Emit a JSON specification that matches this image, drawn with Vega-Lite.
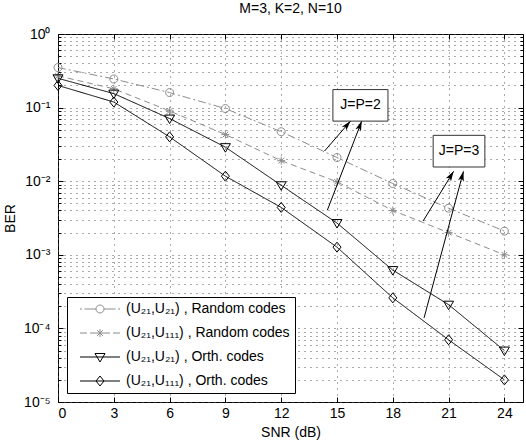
{
  "$schema": "https://vega.github.io/schema/vega-lite/v6.json",
  "width": 465,
  "height": 368,
  "autosize": {"type": "none"},
  "padding": {"left": 58, "top": 34, "right": 3, "bottom": 39},
  "title": {"text": "M=3, K=2, N=10", "fontSize": 14, "fontWeight": "normal", "font": "Liberation Sans", "color": "black", "offset": 11},
  "config": {
    "view": {"stroke": "black", "strokeWidth": 1},
    "font": "Liberation Sans",
    "axis": {"labelFont": "Liberation Sans", "titleFont": "Liberation Sans", "labelColor": "black", "titleColor": "black", "labelFontSize": 14, "titleFontSize": 14, "titleFontWeight": "normal", "tickColor": "black", "domain": false}
  },
  "datasets": {
    "ber": [
      {"snr": 0, "ber": 0.35, "series": "A"}, {"snr": 3, "ber": 0.245, "series": "A"}, {"snr": 6, "ber": 0.16, "series": "A"}, {"snr": 9, "ber": 0.097, "series": "A"}, {"snr": 12, "ber": 0.047, "series": "A"}, {"snr": 15, "ber": 0.021, "series": "A"}, {"snr": 18, "ber": 0.0093, "series": "A"}, {"snr": 21, "ber": 0.0043, "series": "A"}, {"snr": 24, "ber": 0.0021, "series": "A"},
      {"snr": 0, "ber": 0.27, "series": "B"}, {"snr": 3, "ber": 0.18, "series": "B"}, {"snr": 6, "ber": 0.09, "series": "B"}, {"snr": 9, "ber": 0.043, "series": "B"}, {"snr": 12, "ber": 0.019, "series": "B"}, {"snr": 15, "ber": 0.0098, "series": "B"}, {"snr": 18, "ber": 0.004, "series": "B"}, {"snr": 21, "ber": 0.002, "series": "B"}, {"snr": 24, "ber": 0.001, "series": "B"},
      {"snr": 0, "ber": 0.25, "series": "C"}, {"snr": 3, "ber": 0.155, "series": "C"}, {"snr": 6, "ber": 0.071, "series": "C"}, {"snr": 9, "ber": 0.029, "series": "C"}, {"snr": 12, "ber": 0.0088, "series": "C"}, {"snr": 15, "ber": 0.0027, "series": "C"}, {"snr": 18, "ber": 0.00062, "series": "C"}, {"snr": 21, "ber": 0.00021, "series": "C"}, {"snr": 24, "ber": 0.00005, "series": "C"},
      {"snr": 0, "ber": 0.2, "series": "D"}, {"snr": 3, "ber": 0.119, "series": "D"}, {"snr": 6, "ber": 0.04, "series": "D"}, {"snr": 9, "ber": 0.0117, "series": "D"}, {"snr": 12, "ber": 0.0044, "series": "D"}, {"snr": 15, "ber": 0.00127, "series": "D"}, {"snr": 18, "ber": 0.00026, "series": "D"}, {"snr": 21, "ber": 0.00007, "series": "D"}, {"snr": 24, "ber": 0.00002, "series": "D"}
    ],
    "boxes": [
      {"label": "J=P=2", "x1": 14.78, "x2": 17.74, "y1": 0.1758, "y2": 0.0655, "xc": 16.26, "yc": 0.1073},
      {"label": "J=P=3", "x1": 20.17, "x2": 22.95, "y1": 0.042, "y2": 0.0156, "xc": 21.56, "yc": 0.0256}
    ],
    "arrows": [
      {"x1": 14.33, "y1": 0.0257, "x2": 15.73, "y2": 0.0656, "angle": 41},
      {"x1": 14.48, "y1": 0.00403, "x2": 16.33, "y2": 0.0656, "angle": 21},
      {"x1": 19.63, "y1": 0.00288, "x2": 21.27, "y2": 0.0136, "angle": 31.5},
      {"x1": 19.68, "y1": 0.000139, "x2": 21.8, "y2": 0.0136, "angle": 15}
    ]
  },
  "resolve": {
    "scale": {"shape": "independent", "color": "independent", "strokeDash": "independent"},
    "axis": {"x": "independent", "y": "independent"}
  },
  "layer": [
    {
      "data": {"name": "ber"},
      "mark": {"type": "line", "strokeWidth": 1},
      "encoding": {
        "x": {"field": "snr", "type": "quantitative", "scale": {"domain": [0, 25], "nice": false}, "axis": null},
        "y": {"field": "ber", "type": "quantitative", "scale": {"type": "log", "domain": [0.00001, 1], "nice": false}, "axis": null},
        "color": {"field": "series", "type": "nominal", "scale": {"domain": ["A", "B", "C", "D"], "range": ["#8c8c8c", "#8c8c8c", "#000000", "#000000"]}, "legend": null},
        "strokeDash": {"field": "series", "type": "nominal", "scale": {"domain": ["A", "B", "C", "D"], "range": [[8, 3, 2, 3], [6, 4], [1, 0], [1, 0]]}, "legend": null}
      }
    },
    {
      "data": {"name": "ber"},
      "mark": {"type": "point", "filled": false, "strokeWidth": 1, "size": 100, "opacity": 1},
      "encoding": {
        "x": {"field": "snr", "type": "quantitative", "scale": {"domain": [0, 25], "nice": false},
          "axis": {"orient": "bottom", "values": [0, 3, 6, 9, 12, 15, 18, 21, 24], "title": "SNR (dB)", "grid": true, "gridDash": [1, 5], "gridColor": "#555555", "tickSize": -5, "labelPadding": 9, "titlePadding": 5}},
        "y": {"field": "ber", "type": "quantitative", "scale": {"type": "log", "domain": [0.00001, 1], "nice": false},
          "axis": {"orient": "left", "title": "BER", "titlePadding": 6,
            "values": [0.00001, 0.00002, 0.00003, 0.00004, 0.00005, 0.00006, 0.00007, 0.00008, 0.00009, 0.0001, 0.0002, 0.0003, 0.0004, 0.0005, 0.0006, 0.0007, 0.0008, 0.0009, 0.001, 0.002, 0.003, 0.004, 0.005, 0.006, 0.007, 0.008, 0.009, 0.01, 0.02, 0.03, 0.04, 0.05, 0.06, 0.07, 0.08, 0.09, 0.1, 0.2, 0.3, 0.4, 0.5, 0.6, 0.7, 0.8, 0.9, 1],
            "labelExpr": "abs(log(datum.value)/LN10 - round(log(datum.value)/LN10)) < 0.001 ? '10' + ['⁰','⁻¹','⁻²','⁻³','⁻⁴','⁻⁵'][-round(log(datum.value)/LN10)] : ''",
            "grid": true, "gridDash": [1, 5], "gridColor": "#555555",
            "tickSize": {"condition": {"test": "abs(log(datum.value)/LN10 - round(log(datum.value)/LN10)) < 0.001", "value": -5}, "value": -3},
            "labelPadding": 13, "labelFlush": false, "labelOverlap": false}},
        "shape": {"field": "series", "type": "nominal", "scale": {"domain": ["A", "B", "C", "D"], "range": [
          "M-0.8,0A0.8,0.8 0 1,0 0.8,0A0.8,0.8 0 1,0 -0.8,0Z",
          "M-0.8,0L0.8,0M0,-0.8L0,0.8M-0.57,-0.57L0.57,0.57M-0.57,0.57L0.57,-0.57",
          "M-1,-0.7L1,-0.7L0,1Z",
          "M0,-1L0.8,0L0,1L-0.8,0Z"]}, "legend": null},
        "color": {"field": "series", "type": "nominal", "scale": {"domain": ["A", "B", "C", "D"], "range": ["#8c8c8c", "#8c8c8c", "#000000", "#000000"]}, "legend": null}
      }
    },
    {
      "data": {"name": "ber"},
      "mark": {"type": "point", "filled": false, "strokeWidth": 1, "size": 100, "opacity": 0},
      "encoding": {
        "x": {"field": "snr", "type": "quantitative", "scale": {"domain": [0, 25], "nice": false},
          "axis": {"orient": "top", "values": [0, 3, 6, 9, 12, 15, 18, 21, 24], "labels": false, "title": null, "grid": false, "tickSize": -5}},
        "y": {"field": "ber", "type": "quantitative", "scale": {"type": "log", "domain": [0.00001, 1], "nice": false},
          "axis": {"orient": "right", "labels": false, "title": null, "grid": false,
            "values": [0.00001, 0.00002, 0.00003, 0.00004, 0.00005, 0.00006, 0.00007, 0.00008, 0.00009, 0.0001, 0.0002, 0.0003, 0.0004, 0.0005, 0.0006, 0.0007, 0.0008, 0.0009, 0.001, 0.002, 0.003, 0.004, 0.005, 0.006, 0.007, 0.008, 0.009, 0.01, 0.02, 0.03, 0.04, 0.05, 0.06, 0.07, 0.08, 0.09, 0.1, 0.2, 0.3, 0.4, 0.5, 0.6, 0.7, 0.8, 0.9, 1],
            "tickSize": {"condition": {"test": "abs(log(datum.value)/LN10 - round(log(datum.value)/LN10)) < 0.001", "value": -5}, "value": -3}}},
        "shape": {"field": "series", "type": "nominal", "scale": {"domain": ["A", "B", "C", "D"], "range": [
          "M-4,0L-3.6,0M-3.1,0L-0.8,0M0.8,0L3.1,0M3.6,0L4,0M-0.8,0A0.8,0.8 0 1,0 0.8,0A0.8,0.8 0 1,0 -0.8,0Z",
          "M-4,0L-2.6,0M-2,0L-0.8,0M0.8,0L2,0M2.6,0L4,0M-0.8,0L0.8,0M0,-0.8L0,0.8M-0.57,-0.57L0.57,0.57M-0.57,0.57L0.57,-0.57",
          "M-4,0L4,0M-1,-0.7L1,-0.7L0,1Z",
          "M-4,0L4,0M0,-1L0.8,0L0,1L-0.8,0Z"]},
          "legend": {"title": null, "orient": "bottom-left", "offset": 9, "padding": 5, "strokeColor": "black", "fillColor": "white", "cornerRadius": 0, "symbolSize": 100, "symbolStrokeWidth": 1, "symbolOpacity": 1, "symbolOffset": 21, "labelOffset": 19, "labelFontSize": 14, "labelFont": "Liberation Sans", "labelColor": "black", "labelLimit": 0, "rowPadding": 10,
            "labelExpr": "{'A': '(U₂₁,U₂₁) , Random codes', 'B': '(U₂₁,U₁₁₁) , Random codes', 'C': '(U₂₁,U₂₁) , Orth. codes', 'D': '(U₂₁,U₁₁₁) , Orth. codes'}[datum.value]"}},
        "color": {"field": "series", "type": "nominal", "scale": {"domain": ["A", "B", "C", "D"], "range": ["#8c8c8c", "#8c8c8c", "#000000", "#000000"]},
          "legend": {"title": null, "orient": "bottom-left", "offset": 9, "padding": 5, "strokeColor": "black", "fillColor": "white", "cornerRadius": 0, "symbolSize": 100, "symbolStrokeWidth": 1, "symbolOpacity": 1, "symbolOffset": 21, "labelOffset": 19, "labelFontSize": 14, "labelFont": "Liberation Sans", "labelColor": "black", "labelLimit": 0, "rowPadding": 10,
            "labelExpr": "{'A': '(U₂₁,U₂₁) , Random codes', 'B': '(U₂₁,U₁₁₁) , Random codes', 'C': '(U₂₁,U₂₁) , Orth. codes', 'D': '(U₂₁,U₁₁₁) , Orth. codes'}[datum.value]"}}
      }
    },
    {
      "data": {"name": "arrows"},
      "mark": {"type": "rule", "color": "black", "strokeWidth": 1},
      "encoding": {
        "x": {"field": "x1", "type": "quantitative", "scale": {"domain": [0, 25], "nice": false}, "axis": null},
        "y": {"field": "y1", "type": "quantitative", "scale": {"type": "log", "domain": [0.00001, 1], "nice": false}, "axis": null},
        "x2": {"field": "x2"},
        "y2": {"field": "y2"}
      }
    },
    {
      "data": {"name": "arrows"},
      "mark": {"type": "point", "filled": true, "color": "black", "size": 100, "opacity": 1, "shape": "M0,0L0.6,2L0,1.5L-0.6,2Z"},
      "encoding": {
        "x": {"field": "x2", "type": "quantitative", "scale": {"domain": [0, 25], "nice": false}, "axis": null},
        "y": {"field": "y2", "type": "quantitative", "scale": {"type": "log", "domain": [0.00001, 1], "nice": false}, "axis": null},
        "angle": {"field": "angle", "type": "quantitative", "scale": null}
      }
    },
    {
      "data": {"name": "boxes"},
      "mark": {"type": "rect", "fill": "white", "stroke": "#333333", "strokeWidth": 1},
      "encoding": {
        "x": {"field": "x1", "type": "quantitative", "scale": {"domain": [0, 25], "nice": false}, "axis": null},
        "x2": {"field": "x2"},
        "y": {"field": "y1", "type": "quantitative", "scale": {"type": "log", "domain": [0.00001, 1], "nice": false}, "axis": null},
        "y2": {"field": "y2"}
      }
    },
    {
      "data": {"name": "boxes"},
      "mark": {"type": "text", "fontSize": 14, "font": "Liberation Sans", "color": "black", "baseline": "middle", "align": "center"},
      "encoding": {
        "x": {"field": "xc", "type": "quantitative", "scale": {"domain": [0, 25], "nice": false}, "axis": null},
        "y": {"field": "yc", "type": "quantitative", "scale": {"type": "log", "domain": [0.00001, 1], "nice": false}, "axis": null},
        "text": {"field": "label"}
      }
    }
  ]
}
